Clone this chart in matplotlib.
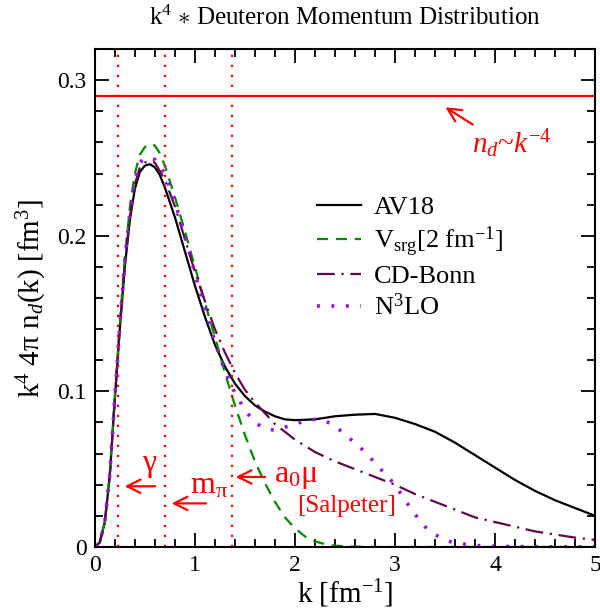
import matplotlib
matplotlib.use('Agg')
import matplotlib.pyplot as plt
from matplotlib.ticker import MultipleLocator, FuncFormatter

plt.rcParams['font.family'] = 'Liberation Serif'
plt.rcParams['mathtext.fontset'] = 'custom'
plt.rcParams['mathtext.rm'] = 'Liberation Serif'
plt.rcParams['mathtext.it'] = 'Liberation Serif:italic'
plt.rcParams['mathtext.bf'] = 'Liberation Serif:bold'

# === data ===
k_av18 = [0, 0.05, 0.1, 0.15, 0.2, 0.25, 0.3, 0.35, 0.4, 0.45, 0.5, 0.55, 0.6, 0.65, 0.7,
          0.8, 0.9, 1.0, 1.1, 1.2, 1.3, 1.4, 1.5, 1.6, 1.7, 1.8, 1.9, 2.0, 2.2, 2.4, 2.6,
          2.8, 3.0, 3.2, 3.4, 3.6, 3.8, 4.0, 4.2, 4.4, 4.6, 4.8, 5.0]
n_av18 = [0, 0.003, 0.016, 0.046, 0.095, 0.14, 0.18, 0.21, 0.23, 0.241, 0.245, 0.246,
          0.244, 0.239, 0.231, 0.212, 0.19, 0.168, 0.148, 0.13, 0.116, 0.105, 0.097,
          0.091, 0.087, 0.084, 0.082, 0.0815, 0.082, 0.084, 0.085, 0.0855, 0.083, 0.079,
          0.074, 0.067, 0.059, 0.051, 0.043, 0.036, 0.030, 0.025, 0.020]

k_srg = [0, 0.05, 0.1, 0.15, 0.2, 0.25, 0.3, 0.35, 0.4, 0.45, 0.5, 0.55, 0.6, 0.65, 0.7,
         0.8, 0.9, 1.0, 1.1, 1.2, 1.3, 1.4, 1.5, 1.6, 1.7, 1.8, 1.9, 2.0, 2.1, 2.2, 2.3,
         2.4, 2.6, 2.8, 3.0, 4.0, 5.0]
n_srg = [0, 0.003, 0.016, 0.047, 0.097, 0.144, 0.186, 0.218, 0.24, 0.252, 0.257, 0.259,
         0.258, 0.253, 0.245, 0.225, 0.203, 0.18, 0.157, 0.135, 0.112, 0.091, 0.072,
         0.055, 0.041, 0.029, 0.019, 0.012, 0.0068, 0.0036, 0.0018, 0.0008, 0.0002, 0,
         0, 0, 0]

k_cdb = [0, 0.05, 0.1, 0.15, 0.2, 0.25, 0.3, 0.35, 0.4, 0.45, 0.5, 0.55, 0.6, 0.7, 0.8,
         0.9, 1.0, 1.1, 1.2, 1.3, 1.4, 1.5, 1.6, 1.7, 1.8, 1.9, 2.0, 2.2, 2.4, 2.6, 2.8,
         3.0, 3.2, 3.4, 3.6, 3.8, 4.0, 4.2, 4.4, 4.6, 4.8, 5.0]
n_cdb = [0, 0.003, 0.016, 0.046, 0.095, 0.141, 0.182, 0.212, 0.233, 0.244, 0.247, 0.248,
         0.247, 0.236, 0.219, 0.198, 0.177, 0.158, 0.14, 0.125, 0.112, 0.101, 0.093,
         0.086, 0.079, 0.074, 0.069, 0.061, 0.055, 0.05, 0.045, 0.040, 0.034, 0.029,
         0.024, 0.019, 0.016, 0.013, 0.010, 0.008, 0.006, 0.0045]

k_n3lo = [0, 0.05, 0.1, 0.15, 0.2, 0.25, 0.3, 0.35, 0.4, 0.45, 0.5, 0.55, 0.6, 0.7, 0.8,
          0.9, 1.0, 1.1, 1.2, 1.3, 1.4, 1.5, 1.6, 1.7, 1.8, 1.9, 2.0, 2.1, 2.2, 2.3, 2.4,
          2.5, 2.6, 2.7, 2.8, 2.9, 3.0, 3.1, 3.2, 3.3, 3.4, 3.5, 3.6, 3.8, 4.0, 4.5, 5.0]
n_n3lo = [0, 0.003, 0.016, 0.047, 0.096, 0.142, 0.184, 0.215, 0.236, 0.247, 0.25, 0.25,
          0.249, 0.24, 0.222, 0.2, 0.176, 0.153, 0.132, 0.113, 0.099, 0.088, 0.080,
          0.076, 0.075, 0.077, 0.079, 0.081, 0.082, 0.081, 0.078, 0.072, 0.067, 0.061,
          0.054, 0.047, 0.040, 0.030, 0.021, 0.013, 0.008, 0.0045, 0.0025, 0.001,
          0.0004, 0.0001, 0]

asym_level = 0.29
scales_k = [0.232, 0.70, 1.37]   # gamma, m_pi, a0*mu

red = '#ff0000'

fig = plt.figure(figsize=(6, 6.15), dpi=100)
ax = fig.add_axes([0.158, 0.1106, 0.834, 0.8097])

ax.plot(k_av18, n_av18, color='black', lw=1.6, label='AV18')
ax.plot(k_srg, n_srg, color='#008a00', lw=1.6, ls=(0, (5, 3.5)),
        label=r'V$_{\mathrm{srg}}$[2 fm$^{-1}$]')
ax.plot(k_cdb, n_cdb, color='#5c0a4c', lw=1.6, ls=(0, (8, 3, 1, 3)), label='CD-Bonn')
ax.plot(k_n3lo, n_n3lo, color='#9a10e0', lw=2.6, ls=(0, (0.8, 3.2)), label=r'N$^3$LO')

ax.axhline(asym_level, color=red, lw=1.6)
for kk in scales_k:
    ax.axvline(kk, color=red, lw=1.6, ls=(0, (1, 3.5)))

# annotations
arrow = dict(arrowstyle='->', color=red, lw=1.6, mutation_scale=24)
ax.annotate('', xy=(0.27, 0.039), xytext=(0.63, 0.039), arrowprops=arrow)
ax.text(0.55, 0.049, r'$\mathrm{\gamma}$', color=red, fontsize=23, ha='center', va='baseline')
ax.annotate('', xy=(0.74, 0.028), xytext=(1.14, 0.028), arrowprops=arrow)
ax.text(0.95, 0.0346, r'm$_{\mathrm{\pi}}$', color=red, fontsize=23, ha='left', va='baseline')
ax.annotate('', xy=(1.38, 0.045), xytext=(1.73, 0.045), arrowprops=arrow)
ax.text(1.79, 0.0417, r'a$_0$$\mathrm{\mu}$', color=red, fontsize=23, ha='left', va='baseline')
ax.text(2.02, 0.0224, '[Salpeter]', color=red, fontsize=18, ha='left', va='baseline')
ax.annotate('', xy=(3.48, 0.2835), xytext=(3.80, 0.2705), arrowprops=arrow)
ax.text(3.77, 0.253, r'$n_d$~$k^{-4}$', color=red, fontsize=21, ha='left', va='baseline')

ax.set_xlim(0, 5)
ax.set_ylim(0, 0.32)
ax.xaxis.set_major_locator(MultipleLocator(1))
ax.xaxis.set_minor_locator(MultipleLocator(0.2))
ax.yaxis.set_major_locator(MultipleLocator(0.1))
ax.yaxis.set_minor_locator(MultipleLocator(0.02))
fmt = FuncFormatter(lambda v, p: '%g' % round(v, 3))
ax.xaxis.set_major_formatter(fmt)
ax.yaxis.set_major_formatter(fmt)
ax.tick_params(which='both', direction='in', top=True, right=True, labelsize=17, width=1.3)
ax.tick_params(which='major', length=10, pad=6)
ax.tick_params(which='minor', length=5.5)
for s in ax.spines.values():
    s.set_linewidth(1.5)

ax.set_xlabel(r'k [fm$^{-1}$]', fontsize=21, labelpad=1)
ax.set_ylabel(r'k$^4$ 4$\mathrm{\pi}$ n$_d$(k) [fm$^3$]', fontsize=21, labelpad=6)
ax.set_title(r'k$^4$ $\ast$ Deuteron Momentum Distribution', fontsize=18, pad=17)

ax.legend(loc='upper left', bbox_to_anchor=(0.444, 0.705), frameon=False, fontsize=19,
          handlelength=1.65, handletextpad=0.5, labelspacing=0.2, borderpad=0,
          borderaxespad=0)

fig.savefig('out.png', dpi=100)
